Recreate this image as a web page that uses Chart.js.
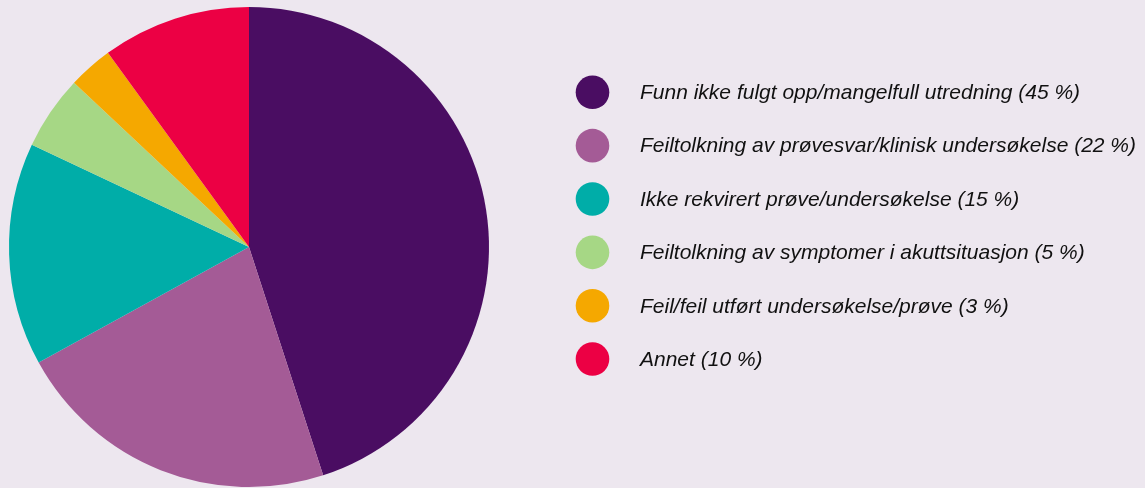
<!DOCTYPE html>
<html>
<head>
<meta charset="utf-8">
<script src="https://cdn.jsdelivr.net/npm/chart.js@4"></script>
<style>
  html, body { margin: 0; padding: 0; background: #ede7ef; }
  #wrap { width: 1145px; height: 488px; }
</style>
</head>
<body>
<div id="wrap"><canvas id="myChart" width="1145" height="488"></canvas></div>
<script>
const labels = [
    'Funn ikke fulgt opp/mangelfull utredning (45 %)',
    'Feiltolkning av prøvesvar/klinisk undersøkelse (22 %)',
    'Ikke rekvirert prøve/undersøkelse (15 %)',
    'Feiltolkning av symptomer i akuttsituasjon (5 %)',
    'Feil/feil utført undersøkelse/prøve (3 %)',
    'Annet (10 %)'
];
const values = [45, 22, 15, 5, 3, 10];
const colors = ['#4a0d62', '#a45b96', '#00ada8', '#a6d785', '#f5a800', '#ec0044'];

// legend drawn by hand so the circles and spacing match
const sideLegend = {
    id: 'sideLegend',
    afterDraw(chart) {
        const c = chart.ctx;
        const ds = chart.data.datasets[0];
        c.save();
        c.font = 'italic 21px "Liberation Sans", Arial, sans-serif';
        c.textBaseline = 'middle';
        chart.data.labels.forEach((label, i) => {
            const y = 92.3 + i * 53.35;
            c.beginPath();
            c.arc(592.5, y, 16.8, 0, Math.PI * 2);
            c.fillStyle = ds.backgroundColor[i];
            c.fill();
            c.fillStyle = '#111111';
            c.fillText(label, 640, y + 1);
        });
        c.restore();
    }
};

new Chart(document.getElementById('myChart'), {
    type: 'pie',
    data: {
        labels: labels,
        datasets: [{
            data: values,
            backgroundColor: colors,
            borderWidth: 0
        }]
    },
    options: {
        responsive: false,
        animation: false,
        layout: {
            padding: {left: 9, top: 7, bottom: 1, right: 656}
        },
        plugins: {
            legend: {display: false},
            tooltip: {enabled: false}
        }
    },
    plugins: [sideLegend]
});
</script>
</body>
</html>
